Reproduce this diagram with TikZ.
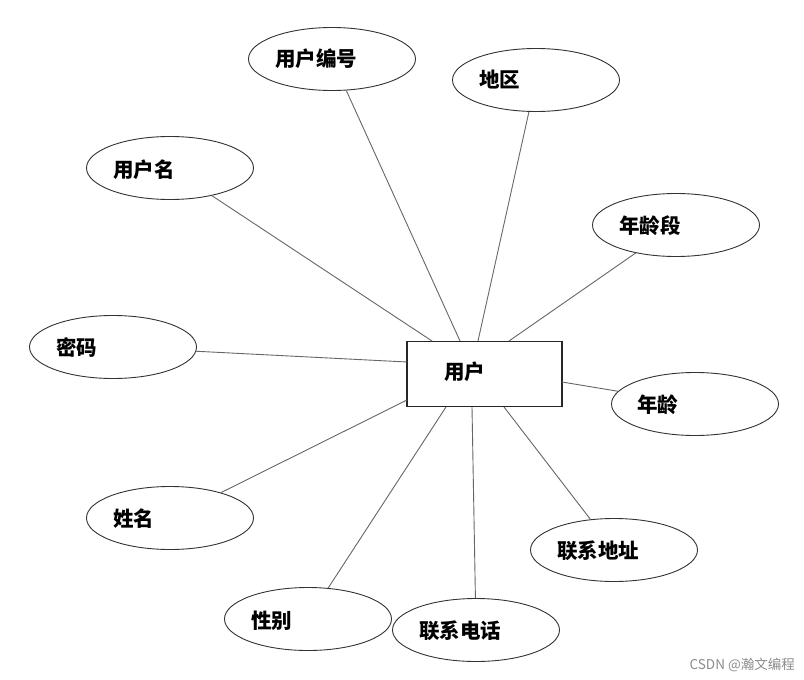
\documentclass[tikz,border=0pt]{standalone}
\usepackage{fontspec}
\setmainfont{Noto Sans CJK SC}
\newfontfamily\cjkbold{Noto Sans CJK SC Black}
\usetikzlibrary{shapes.geometric}
\tikzset{
  attr/.style={ellipse, draw=black!80, line width=0.9pt, inner sep=0pt, minimum width=167pt, minimum height=63pt},
  lbl/.style={anchor=west, inner sep=0pt, font=\cjkbold\fontsize{20.5}{24}\selectfont},
  ent/.style={rectangle, draw=black!85, line width=1.3pt, inner sep=0pt, minimum width=155pt, minimum height=65pt},
  link/.style={draw=black!60, line width=0.9pt},
}
\begin{document}
\begin{tikzpicture}[x=1pt,y=-1pt]
\useasboundingbox (0,0) rectangle (804,680);
\fill[white] (0,0) rectangle (804,680);
% entity
\node[ent] (user) at (484.5,374) {};
\node[lbl] (userl) at (444,372) {用户};
% attributes
\node[attr] (a1) at (332,59) {};   \node[lbl] (a1l) at (275,59) {用户编号};
\node[attr] (a2) at (536,80) {};   \node[lbl] (a2l) at (479,80) {地区};
\node[attr] (a3) at (170,168) {};  \node[lbl] (a3l) at (113,170) {用户名};
\node[attr] (a4) at (676,225) {};  \node[lbl] (a4l) at (619,226) {年龄段};
\node[attr] (a5) at (113,347) {};  \node[lbl] (a5l) at (56,348) {密码};
\node[attr] (a6) at (695,404) {};  \node[lbl] (a6l) at (637,405) {年龄};
\node[attr] (a7) at (170,518) {};  \node[lbl] (a7l) at (113,519) {姓名};
\node[attr] (a8) at (614,550) {};  \node[lbl] (a8l) at (557,551) {联系地址};
\node[attr] (a9) at (308,619) {};  \node[lbl] (a9l) at (251,621) {性别};
\node[attr] (a10) at (476,630) {}; \node[lbl] (a10l) at (419,631) {联系电话};
% endpoints on the entity border
\coordinate (p1) at (460,341);
\coordinate (p2) at (478,341);
\coordinate (p3) at (432,341);
\coordinate (p4) at (509,341);
\coordinate (p5) at (407,362);
\coordinate (p6) at (562,382);
\coordinate (p7) at (407,400);
\coordinate (p8) at (504,407);
\coordinate (p9) at (446,407);
\coordinate (p10) at (472,407);
\foreach \i in {1,...,10} { \draw[link] (a\i) -- (p\i); }
% watermark
\node[anchor=east, inner sep=0pt, text=black!45, font=\fontsize{13.5}{16}\selectfont] (wm) at (795,665) {CSDN @瀚文编程};
\end{tikzpicture}
\end{document}
